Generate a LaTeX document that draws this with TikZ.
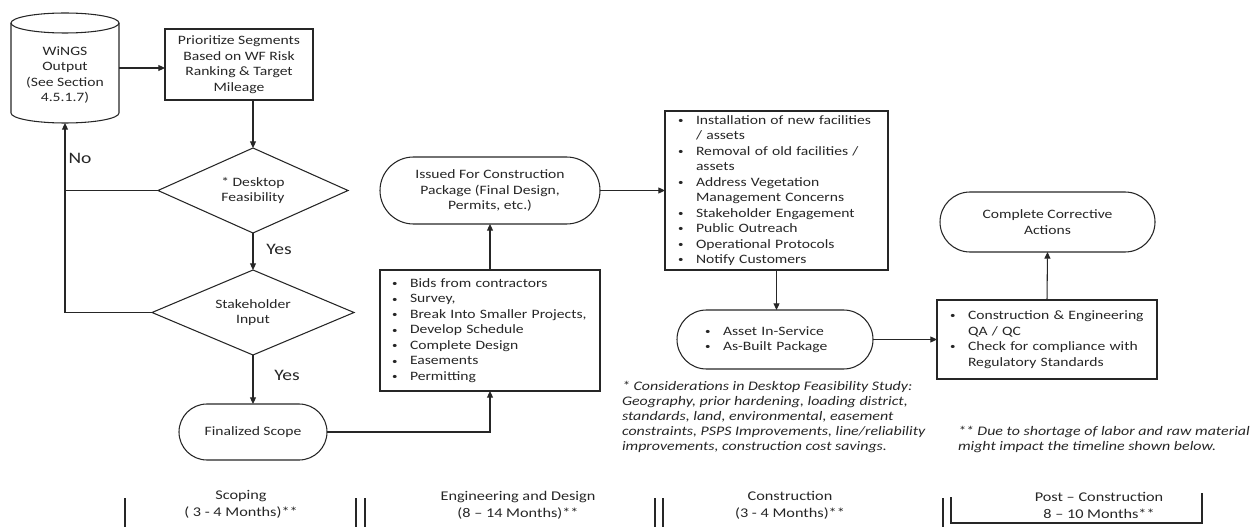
\documentclass[tikz,border=0pt]{standalone}
\usepackage{fontspec}
\setmainfont{Carlito}[FakeStretch=1.22]
\usetikzlibrary{shapes.geometric,shapes.misc,arrows.meta}
\newlength\PX \setlength\PX{0.75pt}
\newcommand\bitem[1]{\makebox[18\PX][l]{\raisebox{0.12ex}{\scalebox{0.7}{\textbullet}}}\mbox{#1}}
\newcommand\bcont[1]{\hspace*{18\PX}\mbox{#1}}
\tikzset{
  every node/.style={inner sep=0pt, outer sep=0pt, text=black!85},
  ln/.style={line width=0.8pt, draw=black!85},
  box/.style={ln, rectangle, align=center, font=\fontsize{9.6pt}{11.6pt}\selectfont},
  term/.style={ln, rounded rectangle, align=center, font=\fontsize{9.6pt}{11.6pt}\selectfont},
  dec/.style={ln, diamond, align=center, font=\fontsize{9.6pt}{11.6pt}\selectfont},
  arr/.style={ln, -{Triangle[length=5pt,width=4.5pt]}},
  lbl/.style={font=\fontsize{12pt}{14pt}\selectfont},
  tl/.style={align=center, font=\fontsize{10pt}{12.75pt}\selectfont},
  note/.style={anchor=north west, align=left, font=\fontsize{9.8pt}{11.25pt}\selectfont\itshape},
}
\begin{document}
\begin{tikzpicture}[x=0.75pt,y=-0.75pt]
\useasboundingbox (0,0) rectangle (1255,527);

% cylinder
\node[minimum width=108\PX, minimum height=110\PX] (wings) at (65,68) {};
\draw[ln] ([yshift=-10\PX]wings.north west) -- ([yshift=10\PX]wings.south west)
  arc[start angle=180, end angle=360, x radius=54\PX, y radius=10\PX]
  -- ([yshift=-10\PX]wings.north east);
\draw[ln] ([yshift=-10\PX]wings.north) ellipse[x radius=54\PX, y radius=10\PX];
\node[align=center, font=\fontsize{9.6pt}{11.6pt}\selectfont] (wingstext) at (65,75) {WiNGS\\Output\\(See Section\\4.5.1.7)};

\node[box, minimum width=148\PX, minimum height=71\PX] (prio) at (239,64.5)
  {Prioritize Segments\\Based on WF Risk\\Ranking \& Target\\Mileage};
\node[dec, minimum width=190\PX, minimum height=85\PX, aspect=2.235] (d1) at (253,190.5)
  {* Desktop\\Feasibility};
\node[dec, minimum width=202\PX, minimum height=85\PX, aspect=2.376] (d2) at (253,312.5)
  {Stakeholder\\Input};
\node[term, minimum width=148\PX, minimum height=56\PX] (fin) at (253,432) {Finalized Scope};

\node[box, minimum width=220\PX, minimum height=121\PX, text width=196\PX, align=left] (bids) at (490,330.5)
  {\bitem{Bids from contractors}\\\bitem{Survey,}\\\bitem{Break Into Smaller Projects,}\\\bitem{Develop Schedule}\\\bitem{Complete Design}\\\bitem{Easements}\\\bitem{Permitting}};
\node[term, minimum width=220\PX, minimum height=67\PX] (issued) at (490,190.5)
  {Issued For Construction\\Package (Final Design,\\Permits, etc.)};

\node[box, minimum width=223\PX, minimum height=159\PX, text width=197\PX, align=left] (cons) at (776.5,190.5)
  {\bitem{Installation of new facilities}\\\bcont{/ assets}\\\bitem{Removal of old facilities /}\\\bcont{assets}\\\bitem{Address Vegetation}\\\bcont{Management Concerns}\\\bitem{Stakeholder Engagement}\\\bitem{Public Outreach}\\\bitem{Operational Protocols}\\\bitem{Notify Customers}};
\node[term, minimum width=196\PX, minimum height=59\PX, text width=140\PX, align=left] (asset) at (775,339.5)
  {\bitem{Asset In-Service}\\\bitem{As-Built Package}};

\node[box, minimum width=220\PX, minimum height=79\PX, text width=194\PX, align=left] (qa) at (1047,339.5)
  {\bitem{Construction \& Engineering}\\\bcont{QA / QC}\\\bitem{Check for compliance with}\\\bcont{Regulatory Standards}};
\node[term, minimum width=215\PX, minimum height=60\PX] (cca) at (1047.5,222)
  {Complete Corrective\\Actions};

% labels
\node[lbl] (no) at (80,158) {No};
\node[lbl] (yes1) at (279,249) {Yes};
\node[lbl] (yes2) at (287,375) {Yes};

% connectors
\draw[arr] (wings.east) -- (wings.east -| prio.west);
\draw[arr] (prio.south -| d1.north) -- (d1.north);
\draw[arr] (d1.south) -- (d2.north);
\draw[arr] (d2.south) -- (fin.north);
\draw[arr] (d1.west) -- (d1.west -| wings.south) -- (wings.south);
\draw[ln] (d2.west) -- (d2.west -| wings.south) -- (d1.west -| wings.south);
\draw[arr] (fin.east) -- (fin.east -| bids.south) -- (bids.south);
\draw[arr] (bids.north) -- (issued.south);
\draw[arr] (issued.east) -- (cons.west);
\draw[arr] (cons.south) -- (cons.south |- asset.north);
\draw[arr] (asset.east) -- (qa.west);
\draw[arr] (qa.north) -- (cca.south);

% notes
\node[note] (note1) at (622,381)
  {* Considerations in Desktop Feasibility Study:\\Geography, prior hardening, loading district,\\standards, land, environmental, easement\\constraints, PSPS Improvements, line/reliability\\improvements, construction cost savings.};
\node[note] (note2) at (958,426)
  {** Due to shortage of labor and raw material\\might impact the timeline shown below.};

% timeline
\node[tl] (t1) at (241,504) {Scoping\\( 3 - 4 Months)**};
\node[tl] (t2) at (518,505.5) {Engineering and Design\\(8 – 14 Months)**};
\node[tl] (t3) at (790,505) {Construction\\(3 - 4 Months)**};
\node[tl] (t4) at (1099,505) {Post – Construction\\8 – 10 Months**};
\draw[ln] (125,498) -- (125,527);
\draw[ln] (356,498) -- (356,527);
\draw[ln] (365,498) -- (365,527);
\draw[ln] (655,498) -- (655,527);
\draw[ln] (663,498) -- (663,527);
\draw[ln] (943,498) -- (943,527);
\draw[ln] (951,497) -- (951,523) -- (1202,523) -- (1202,493);
\end{tikzpicture}
\end{document}
